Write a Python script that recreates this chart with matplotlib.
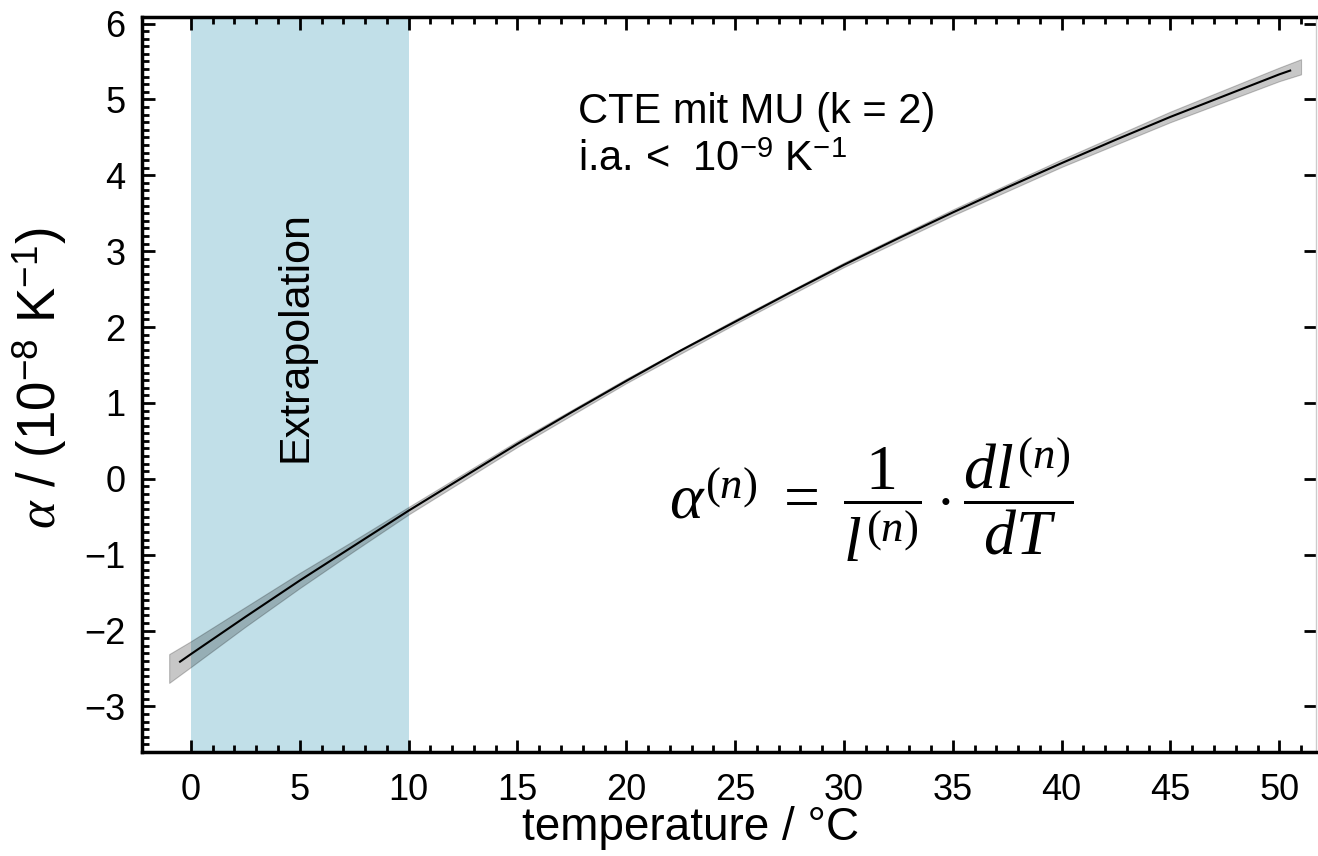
import matplotlib
matplotlib.use("Agg")
import matplotlib.pyplot as plt
from matplotlib.ticker import MultipleLocator, FixedLocator

plt.rcParams["font.family"] = ["Liberation Sans", "DejaVu Sans"]
plt.rcParams["mathtext.fontset"] = "custom"
plt.rcParams["mathtext.rm"] = "Liberation Serif"
plt.rcParams["mathtext.it"] = "Liberation Serif:italic"
plt.rcParams["mathtext.sf"] = "Liberation Sans"

# CTE curve
temp = [-0.5, 0, 2.5, 5, 7.5, 10, 12.5, 15, 17.5, 20, 22.5, 25, 27.5, 30,
        32.5, 35, 37.5, 40, 42.5, 45, 47.5, 50, 50.5]
alpha = [-2.41, -2.31, -1.82, -1.34, -0.88, -0.42, 0.02, 0.46, 0.88, 1.29,
         1.69, 2.07, 2.45, 2.82, 3.17, 3.51, 3.84, 4.16, 4.47, 4.77, 5.05,
         5.33, 5.38]

# uncertainty band (k = 2)
band_temp = [-1, 0, 2.5, 5, 7.5, 10, 15, 20, 25, 30, 35, 40, 45, 50, 51]
band_upper = [-2.31, -2.14, -1.69, -1.24, -0.81, -0.37, 0.50, 1.32, 2.10,
              2.85, 3.55, 4.21, 4.84, 5.42, 5.53]
band_lower = [-2.69, -2.48, -1.95, -1.44, -0.95, -0.47, 0.42, 1.26, 2.04,
              2.79, 3.47, 4.11, 4.70, 5.24, 5.33]

extrap_start = 0
extrap_end = 10
x_minor_ticks = list(range(0, 52))

fig = plt.figure(figsize=(13.18, 8.56), dpi=100)
ax = fig.add_axes([0.1077, 0.1215, 0.891, 0.859])

ax.axvspan(extrap_start, extrap_end, color="#c1dfe8", zorder=0, lw=0)
ax.fill_between(band_temp, band_lower, band_upper, color="black", alpha=0.22,
                lw=0.8, edgecolor=(0, 0, 0, 0.35), zorder=1)
ax.plot(temp, alpha, color="black", lw=1.5, zorder=2)

ax.set_xlim(-2.25, 51.7)
ax.set_ylim(-3.6, 6.09)

ax.xaxis.set_major_locator(MultipleLocator(5))
ax.xaxis.set_minor_locator(FixedLocator(x_minor_ticks))
ax.yaxis.set_major_locator(MultipleLocator(1))
ax.yaxis.set_minor_locator(MultipleLocator(0.1))
ax.tick_params(which="both", direction="in", top=True, right=True, width=2)
ax.tick_params(axis="y", which="minor", right=False)
ax.tick_params(which="major", length=9)
ax.tick_params(which="minor", length=5)
ax.tick_params(axis="x", which="major", pad=15, labelsize=26)
ax.tick_params(axis="y", which="major", pad=12, labelsize=26)

for side in ["left", "bottom", "top"]:
    ax.spines[side].set_linewidth(2.5)
ax.spines["right"].set_color("#cccccc")
ax.spines["right"].set_linewidth(1)

ax.set_xlabel("temperature / °C", fontsize=33)
ax.xaxis.set_label_coords(0.467, -0.073)
ax.set_ylabel(r"$\alpha$ / (10$^{\mathsf{-8}}$ K$^{\mathsf{-1}}$)", fontsize=38)
ax.yaxis.set_label_coords(-0.062, 0.508)

ax.text(4.8, 1.87, "Extrapolation", rotation=90, fontsize=31,
        ha="center", va="center")
ax.text(17.8, 4.69, "CTE mit MU (k = 2)", fontsize=30,
        ha="left", va="baseline")
ax.text(17.8, 4.06, r"i.a. <  10$^{\mathsf{-9}}$ K$^{\mathsf{-1}}$", fontsize=30,
        ha="left", va="baseline")
ax.text(31.25, -0.28,
        r"$\alpha^{(n)} \ = \ \dfrac{1}{l^{(n)}} \cdot \dfrac{dl^{(n)}}{dT}$",
        fontsize=46, ha="center", va="center")

fig.savefig("out.png", dpi=100)
